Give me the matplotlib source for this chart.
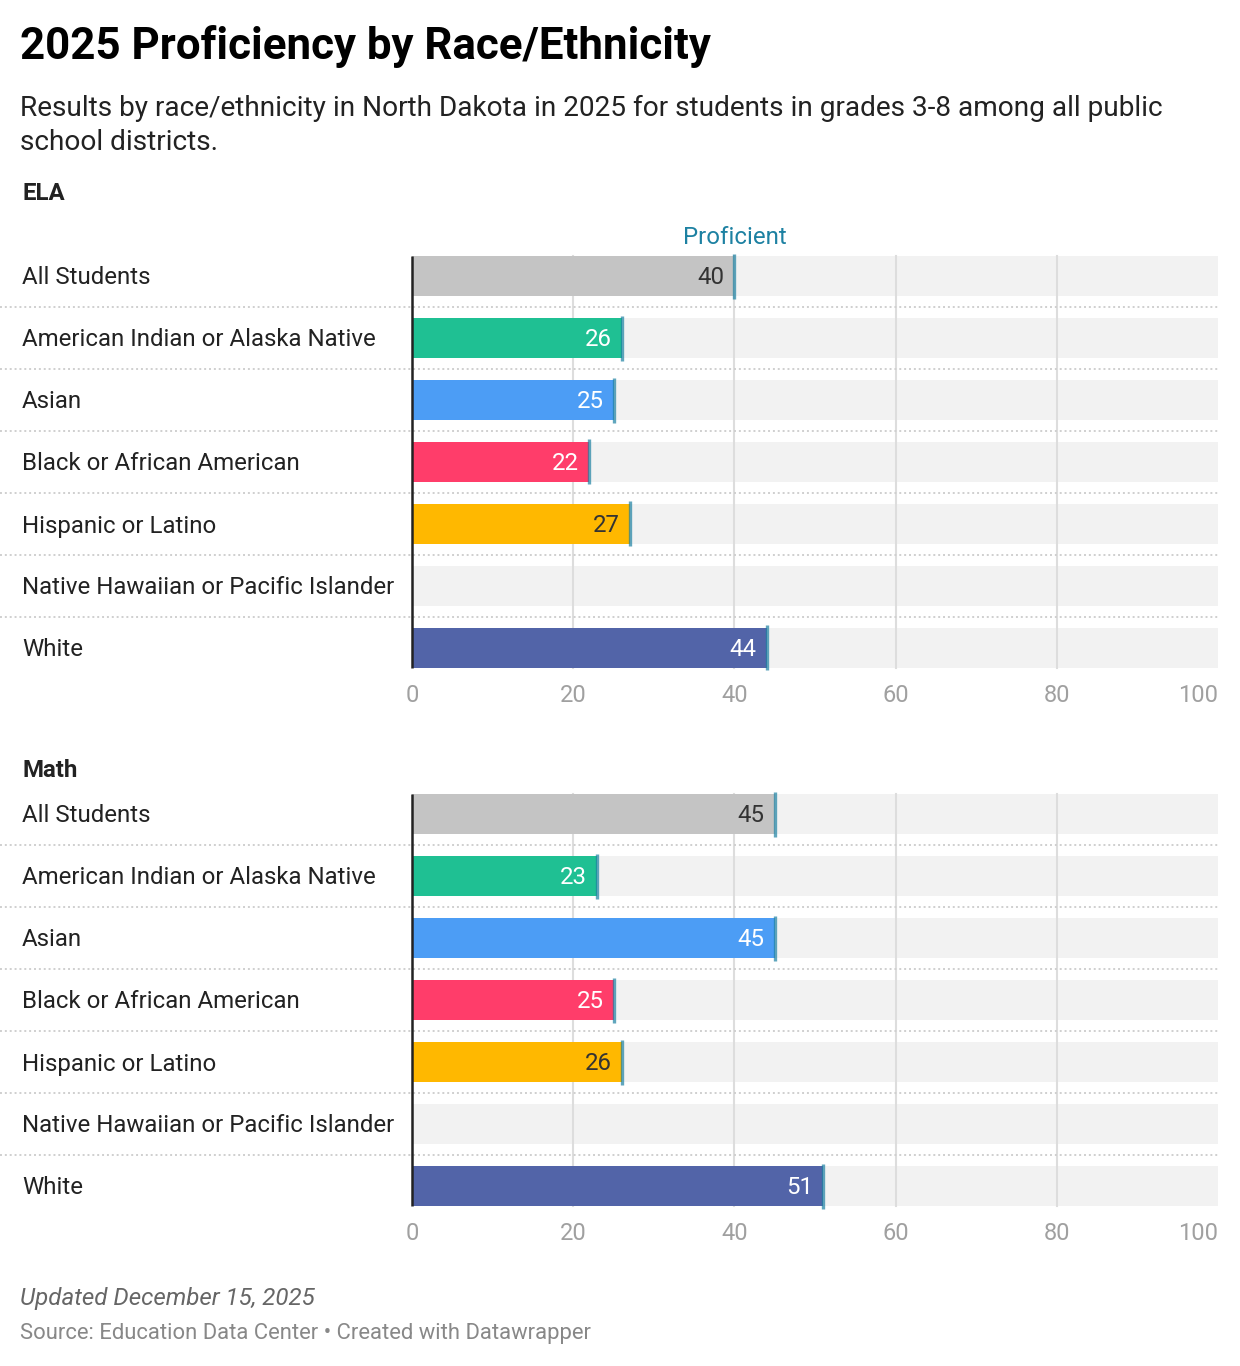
import matplotlib
matplotlib.use("Agg")
import matplotlib.pyplot as plt
import numpy as np

plt.rcParams['font.family'] = ['Roboto', 'DejaVu Sans']

categories = ["All Students", "American Indian or Alaska Native", "Asian",
              "Black or African American", "Hispanic or Latino",
              "Native Hawaiian or Pacific Islander", "White"]
ela_values = [40, 26, 25, 22, 27, np.nan, 44]
math_values = [45, 23, 45, 25, 26, np.nan, 51]
bar_colors = ["#c4c4c4", "#1fc093", "#4c9df5", "#ff3d6a", "#ffb800", "#c4c4c4", "#5264a8"]
label_colors = ["#333333", "white", "white", "white", "#333333", "#333333", "white"]
ticks = [0, 20, 40, 60, 80, 100]
panel_titles = ["ELA", "Math"]

W, H = 1240, 1366
fig = plt.figure(figsize=(W / 100, H / 100), dpi=100)

DY = 2  # small baseline correction in px

def fy(y):
    return 1 - (y + DY) / H

ROW = 62
BAR_H = 40 / ROW
X0, X1 = 412, 1218
FS = 17.3

def panel(values, first_row_y, title, title_y, show_prof):
    top = first_row_y - ROW / 2
    bottom = top + ROW * len(categories)
    ax = fig.add_axes([X0 / W, 1 - bottom / H, (X1 - X0) / W, (bottom - top) / H])
    ax.set_xlim(0, 100)
    ax.set_ylim(len(categories) - 0.5, -0.5)
    ax.axis('off')
    n = len(categories)
    y = np.arange(n)
    ax.barh(y, [100] * n, height=BAR_H, color="#f2f2f2", zorder=1)
    for t in ticks[1:-1]:
        ax.plot([t, t], [-BAR_H / 2, n - 1 + BAR_H / 2], color="#dddddd", lw=1.5, zorder=2)
    for i in range(n - 1):
        ax.plot([-X0 / (X1 - X0) * 100, 100], [i + 0.5, i + 0.5], color="#cfcfcf",
                lw=1.4, ls=(0, (1.0, 1.5)), clip_on=False, zorder=2)
    vals = np.array(values, dtype=float)
    ax.barh(y, np.nan_to_num(vals), height=BAR_H, color=bar_colors, zorder=3)
    ext = 2.5 / ROW
    for i, v in enumerate(vals):
        if np.isnan(v):
            continue
        ax.plot([v, v], [i - BAR_H / 2 - ext, i + BAR_H / 2 + ext], color="#1d81a2",
                alpha=0.7, lw=2.4, solid_capstyle='butt', zorder=4)
        ax.text(v - 1.25, i + DY / ROW, f"{v:.0f}", ha='right', va='center', fontsize=FS,
                color=label_colors[i], zorder=5)
    ax.plot([0, 0], [-BAR_H / 2, n - 1 + BAR_H / 2], color="#222222", lw=1.8,
            solid_capstyle='butt', zorder=6, clip_on=False)
    for i, c in enumerate(categories):
        fig.text(22 / W, fy(first_row_y + i * ROW), c, ha='left', va='center',
                 fontsize=FS, color="#222222")
    tick_y = first_row_y + (n - 1) * ROW + BAR_H * ROW / 2 + 26
    for t in ticks:
        xp = X0 + (X1 - X0) * t / 100
        fig.text(xp / W, fy(tick_y), str(t), ha='center' if t != 100 else 'right',
                 va='center', fontsize=17, color="#a0a0a0")
    fig.text(22 / W, fy(title_y), title, ha='left', va='center', fontsize=FS,
             fontweight='bold', color="#222222")
    if show_prof:
        v = vals[0]
        fig.text((X0 + (X1 - X0) * v / 100) / W, fy(236), "Proficient", ha='center',
                 va='center', fontsize=FS, color="#1d81a2")
    return ax

panel(ela_values, 276, panel_titles[0], 192, True)
panel(math_values, 814, panel_titles[1], 768, False)

fig.text(20 / W, fy(45), "2025 Proficiency by Race/Ethnicity", ha='left', va='center',
         fontsize=31.6, fontweight='bold', color="#000000")
fig.text(20 / W, fy(106),
         "Results by race/ethnicity in North Dakota in 2025 for students in grades 3-8 among all public",
         ha='left', va='center', fontsize=20.2, color="#222222")
fig.text(20 / W, fy(140), "school districts.", ha='left', va='center', fontsize=20.2,
         color="#222222")
fig.text(20 / W, fy(1296), "Updated December 15, 2025", ha='left', va='center',
         fontsize=17.4, fontstyle='italic', color="#666666")
fig.text(20 / W, fy(1332), "Source: Education Data Center • Created with Datawrapper",
         ha='left', va='center', fontsize=15.8, color="#888888")

fig.savefig("out.png", dpi=100, facecolor="white")
